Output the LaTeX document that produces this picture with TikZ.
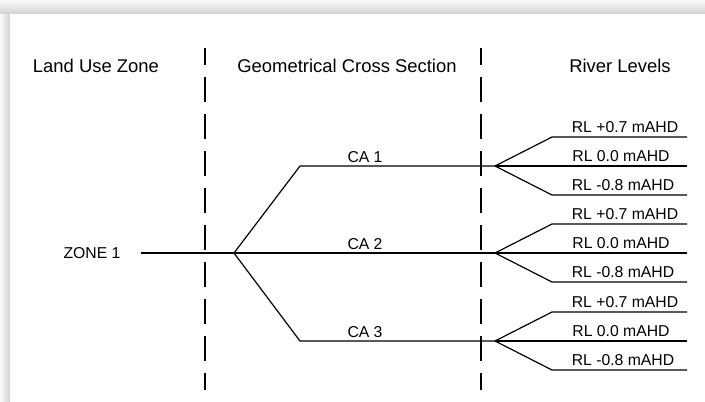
\documentclass[tikz,border=0pt]{standalone}
\usepackage{fontspec}
\setmainfont{Liberation Sans}
\begin{document}
\begin{tikzpicture}
    [ x=1bp, y=-1bp
    , heading/.style={font=\fontsize{18.5}{21}\selectfont, inner sep=0pt}
    , lbl/.style={font=\fontsize{15.8}{18}\selectfont, inner sep=0pt}
    , divider/.style={line width=1.4bp, dash pattern=on 25bp off 12bp, dash phase=8bp}
    , branch/.style={line width=1.2bp}
    ]

    \useasboundingbox (0,0) rectangle (705,401);

    % frame with its shadow
    \shade [top color=black!2, bottom color=black!18] (0,0) rectangle (705,14);
    \shade [left color=black!2, right color=black!18] (0,14) rectangle (10,401);
    \fill [white] (10,14) rectangle (705,401);

    \node [heading] (land)  at (96,66)  {Land Use Zone};
    \node [heading] (geo)   at (347,66) {Geometrical Cross Section};
    \node [heading] (river) at (620,66) {River Levels};

    \coordinate (div1 top) at (205,48);
    \coordinate (div1 bot) at (205,390);
    \coordinate (div2 top) at (481,48);
    \coordinate (div2 bot) at (481,390);
    \draw [divider] (div1 top) -- (div1 bot);
    \draw [divider] (div2 top) -- (div2 bot);

    \node [lbl] (zone) at (92,253) {ZONE 1};
    \coordinate (fork) at (234,253);
    \draw [branch] ([xshift=20bp]zone.east) -- (fork);

    \foreach \n/\y in {1/166, 2/253, 3/341}
    {
      \coordinate (bend\n) at (300,\y);
      \coordinate (join\n) at (495,\y);
      \node [lbl] (ca\n) at (365,\y-9) {CA \n};
      \draw [branch] (fork) -- (bend\n) -- (join\n);

      % the three river levels
      \coordinate (hi\n)  at (552,\y-29);
      \coordinate (lo\n)  at (552,\y+29);
      \coordinate (hi\n end)  at (687,\y-29);
      \coordinate (mid\n end) at (687,\y);
      \coordinate (lo\n end)  at (687,\y+29);
      \draw [branch] (join\n) -- (hi\n) -- (hi\n end);
      \draw [branch] (join\n) -- (mid\n end);
      \draw [branch] (join\n) -- (lo\n) -- (lo\n end);
      \node [lbl] (rl\n hi)  at (625,\y-39) {RL +0.7 mAHD};
      \node [lbl] (rl\n mid) at (621,\y-10) {RL 0.0 mAHD};
      \node [lbl] (rl\n lo)  at (623,\y+19) {RL -0.8 mAHD};
    }

  \end{tikzpicture}
\end{document}
